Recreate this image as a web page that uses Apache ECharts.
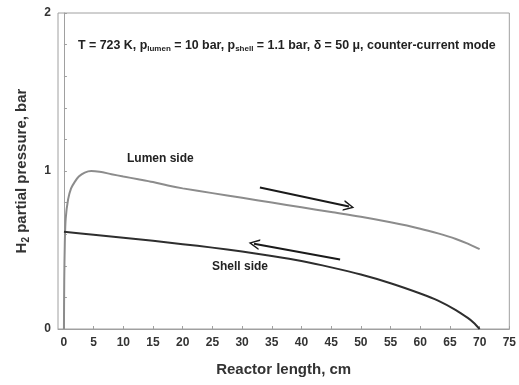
<!DOCTYPE html>
<html>
<head>
<meta charset="utf-8">
<script src="https://cdn.jsdelivr.net/npm/echarts@6/dist/echarts.min.js"></script>
<style>html,body{margin:0;padding:0;background:#fff}#c{width:519px;height:385px}</style>
</head>
<body>
<div id="c"></div>
<script>
// Lumen side H2 partial pressure (x in cm, y in bar)
var lumenX = [0, 0.05, 0.15, 0.3, 0.7, 1.2, 1.8, 2.5, 3.5, 4.6, 6, 8, 10, 12.5, 15, 17.5, 20, 25, 30, 35, 40, 45, 50, 55, 60, 63, 66, 68, 70];
var lumenY = [0, 0.3, 0.55, 0.7, 0.82, 0.89, 0.93, 0.965, 0.99, 1.0, 0.995, 0.98, 0.965, 0.948, 0.93, 0.908, 0.89, 0.86, 0.83, 0.80, 0.77, 0.74, 0.71, 0.675, 0.635, 0.605, 0.57, 0.54, 0.505];
// Shell side
var shellX = [0, 5, 10, 15, 20, 25, 30, 35, 40, 45, 50, 55, 60, 63, 66, 68, 69, 70];
var shellY = [0.615, 0.597, 0.578, 0.558, 0.537, 0.515, 0.49, 0.462, 0.43, 0.39, 0.345, 0.29, 0.225, 0.18, 0.12, 0.07, 0.04, 0];
// Flow-direction arrows [x, y] in data units
var lumenArrow = [[33, 0.895], [48, 0.775]];
var shellArrow = [[46.5, 0.44], [32, 0.54]];
var xTicks = [0, 5, 10, 15, 20, 25, 30, 35, 40, 45, 50, 55, 60, 65, 70, 75];
var yTicks = [0, 0.2, 0.4, 0.6, 0.8, 1, 1.2, 1.4, 1.6, 1.8, 2];
var yLabels = [0, 1, 2];

function pairs(xs, ys) { return xs.map(function (x, i) { return [x, ys[i]]; }); }

var chart = echarts.init(document.getElementById('c'));
var FONT = 'Liberation Sans, Arial, sans-serif';
var arrowSym = 'path://M0,0 L10,18 L7,18 L0,5 L-7,18 L-10,18 Z';

chart.setOption({
  animation: false,
  backgroundColor: '#fff',
  textStyle: { fontFamily: FONT },
  grid: { left: 58, top: 13, right: 9, bottom: 56, show: true, borderColor: '#a0a0a0', borderWidth: 1 },
  xAxis: {
    type: 'value', min: -1, max: 75,
    name: 'Reactor length, cm', nameLocation: 'middle', nameGap: 33,
    nameTextStyle: { fontSize: 15, fontWeight: 'bold', color: '#333', fontFamily: FONT },
    axisLine: { show: true, lineStyle: { color: '#a0a0a0' } },
    axisTick: { show: true, inside: true, length: 3, customValues: xTicks, lineStyle: { color: '#a0a0a0' } },
    axisLabel: { margin: 8, fontSize: 12, fontWeight: 'bold', color: '#333', fontFamily: FONT, customValues: xTicks },
    splitLine: { show: false }
  },
  yAxis: {
    type: 'value', min: 0, max: 2,
    name: '{n|H}{s|2}{n| partial pressure, bar}', nameLocation: 'middle', nameGap: 27,
    nameTextStyle: { fontSize: 15, fontWeight: 'bold', color: '#333', fontFamily: FONT,
      rich: {
        n: { fontSize: 15, fontWeight: 'bold', color: '#333', fontFamily: FONT },
        s: { fontSize: 10, fontWeight: 'bold', color: '#333', fontFamily: FONT, padding: [9, 0, 0, 0] }
      } },
    axisLine: { show: true, lineStyle: { color: '#a0a0a0' } },
    axisTick: { show: true, inside: true, length: 3, customValues: yTicks, lineStyle: { color: '#a0a0a0' } },
    axisLabel: { margin: 7, fontSize: 12, fontWeight: 'bold', color: '#333', fontFamily: FONT, customValues: yLabels },
    splitLine: { show: false }
  },
  graphic: [
    { type: 'text', left: 78, top: 40, style: {
      text: '{n|T = 723 K, p}{s|lumen}{n| = 10 bar, p}{s|shell}{n| = 1.1 bar, δ = 50 μ, counter-current mode}',
      rich: {
        n: { fontSize: 12.4, fontWeight: 'bold', fill: '#222', fontFamily: FONT },
        s: { fontSize: 8, fontWeight: 'bold', fill: '#222', fontFamily: FONT, padding: [6, 0, 0, 0] }
      } } },
    { type: 'text', left: 127, top: 153, style: { text: 'Lumen side', fontSize: 12, fontWeight: 'bold', fill: '#222', fontFamily: FONT } },
    { type: 'text', left: 212, top: 261, style: { text: 'Shell side', fontSize: 12, fontWeight: 'bold', fill: '#222', fontFamily: FONT } }
  ],
  series: [
    {
      name: 'Lumen side', type: 'line', data: pairs(lumenX, lumenY), showSymbol: false, smooth: 0.3,
      lineStyle: { color: '#8c8c8c', width: 2 }, z: 2,
      markLine: {
        silent: true, symbol: ['none', arrowSym], symbolSize: [11, 11],
        lineStyle: { color: '#1a1a1a', width: 2, type: 'solid' }, label: { show: false },
        data: [[{ coord: lumenArrow[0] }, { coord: lumenArrow[1] }]]
      }
    },
    {
      name: 'Shell side', type: 'line', data: pairs(shellX, shellY), showSymbol: false, smooth: 0.3,
      lineStyle: { color: '#2e2e2e', width: 2 }, z: 3,
      markLine: {
        silent: true, symbol: ['none', arrowSym], symbolSize: [11, 11],
        lineStyle: { color: '#1a1a1a', width: 2, type: 'solid' }, label: { show: false },
        data: [[{ coord: shellArrow[0] }, { coord: shellArrow[1] }]]
      }
    }
  ]
});
</script>
</body>
</html>
